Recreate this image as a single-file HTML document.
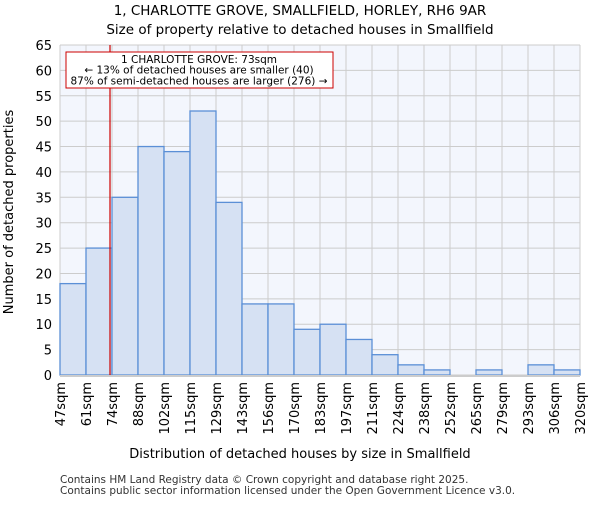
<!DOCTYPE html>
<html><head><meta charset="utf-8"><style>
body{margin:0;background:#fff;font-family:"Liberation Sans","DejaVu Sans",sans-serif}
</style></head><body>
<svg id="c" width="600" height="500" xmlns="http://www.w3.org/2000/svg" font-family="DejaVu Sans, Liberation Sans, sans-serif">
<text x="300" y="15" text-anchor="middle" font-size="13.5">1, CHARLOTTE GROVE, SMALLFIELD, HORLEY, RH6 9AR</text>
<text x="300" y="34" text-anchor="middle" font-size="13.5">Size of property relative to detached houses in Smallfield</text>
<rect x="60" y="45" width="520" height="330" fill="#f3f6fd"/>
<g id="grid"></g><g id="bars"></g><g id="xt"></g><g id="yt"></g>
<text x="300" y="458" text-anchor="middle" font-size="13">Distribution of detached houses by size in Smallfield</text>
<text transform="translate(13,212) rotate(-90)" text-anchor="middle" font-size="13">Number of detached properties</text>
<text x="60" y="483" font-size="10.5" fill="#333">Contains HM Land Registry data © Crown copyright and database right 2025.</text>
<text x="60" y="494" font-size="10.5" fill="#333">Contains public sector information licensed under the Open Government Licence v3.0.</text>
</svg>
<script>
const categories=["47sqm","61sqm","74sqm","88sqm","102sqm","115sqm","129sqm","143sqm","156sqm","170sqm","183sqm","197sqm","211sqm","224sqm","238sqm","252sqm","265sqm","279sqm","293sqm","306sqm","320sqm"];
const binStarts=[47,61,74,88,102,115,129,143,156,170,183,197,211,224,238,252,265,279,293,306,320];
const counts=[18,25,35,45,44,52,34,14,14,9,10,7,4,2,1,0,1,0,2,1];
const yTicks=[0,5,10,15,20,25,30,35,40,45,50,55,60,65];
const propertySize=73;
const X0=60,X1=580,Y0=375,Y1=45,yMax=65;
const bw=(X1-X0)/counts.length;
const xIdx=i=>X0+i*bw;
const y=v=>Y0-(v/yMax)*(Y0-Y1);
const xVal=v=>{for(let i=0;i<binStarts.length-1;i++){if(v>=binStarts[i]&&v<=binStarts[i+1])return xIdx(i)+bw*(v-binStarts[i])/(binStarts[i+1]-binStarts[i]);}return X1;};
const NS="http://www.w3.org/2000/svg";
function mk(tag,attrs,parent){const e=document.createElementNS(NS,tag);for(const k in attrs)e.setAttribute(k,attrs[k]);parent.appendChild(e);return e;}
const grid=document.getElementById('grid'),bars=document.getElementById('bars'),xt=document.getElementById('xt'),yt=document.getElementById('yt');
yTicks.forEach(t=>{
  const l=mk('line',{x1:X0,x2:X1,y1:y(t),y2:y(t),stroke:'#cccccc','stroke-width':1},grid);
  
  
  const tx=mk('text',{x:52,y:y(t)+5,'text-anchor':'end','font-size':13},yt);
  tx.textContent=t;
  
  
});
categories.forEach((c,i)=>{
  const l=mk('line',{x1:xIdx(i),x2:xIdx(i),y1:Y1,y2:Y0,stroke:'#cccccc','stroke-width':1},grid);
  
  
  const tx=mk('text',{transform:`translate(${xIdx(i)+5},382) rotate(-90)`,'text-anchor':'end','font-size':13},xt);
  tx.textContent=c;
  
  
});
counts.forEach((v,i)=>{
  if(v<=0)return;
  const r=mk('rect',{x:xIdx(i),y:y(v),width:bw,height:Y0-y(v),fill:'#d6e1f3',stroke:'#5b8fd6','stroke-width':1.3},bars);
  
  
});
const ax=mk('line',{x1:X0,x2:X1,y1:Y0+1,y2:Y0+1,stroke:'#cccccc','stroke-width':2},bars);


const px=xVal(propertySize);
const ml=mk('line',{x1:px,x2:px,y1:Y1,y2:Y0,stroke:'#cc0000','stroke-width':1.2},bars);


const box=mk('rect',{x:66,y:52,width:267,height:36,fill:'#fff',stroke:'#cc0000','stroke-width':1},bars);


["1 CHARLOTTE GROVE: 73sqm","← 13% of detached houses are smaller (40)","87% of semi-detached houses are larger (276) →"].forEach((s,i)=>{
  const t=mk('text',{x:199,y:63+i*10.7,'text-anchor':'middle','font-size':10.5},bars);
  t.textContent=s;
  
  
});
</script>
</body></html>
